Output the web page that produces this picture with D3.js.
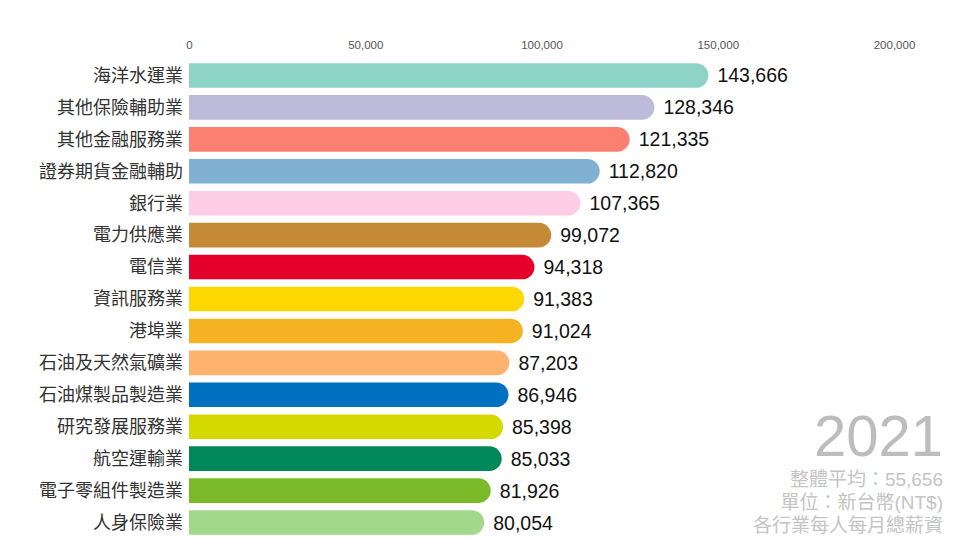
<!DOCTYPE html>
<html>
<head>
<meta charset="utf-8">
<script src="https://cdn.jsdelivr.net/npm/d3@7"></script>
<style>
  html, body { margin: 0; padding: 0; background: #fff; }
  svg { display: block; }
</style>
</head>
<body>
<svg id="chart" width="960" height="540"></svg>
<script>
const categories = ["海洋水運業","其他保險輔助業","其他金融服務業","證券期貨金融輔助","銀行業","電力供應業","電信業","資訊服務業","港埠業","石油及天然氣礦業","石油煤製品製造業","研究發展服務業","航空運輸業","電子零組件製造業","人身保險業"];
const values = [143666,128346,121335,112820,107365,99072,94318,91383,91024,87203,86946,85398,85033,81926,80054];
const colors = ["#8dd3c7","#bebada","#fb8072","#80b1d3","#fccde5","#c48a35","#e4002b","#fcd800","#f5b324","#fdb36e","#0070c0","#d4d900","#00875a","#7aba28","#a2d88c"];
const tickValues = [0,50000,100000,150000,200000];
const year = "2021";
const notes = ["整體平均：55,656","單位：新台幣(NT$)","各行業每人每月總薪資"];

const svg = d3.select("#chart");
const x = d3.scaleLinear().domain([0,200000]).range([189,894]);
const y = d3.scaleBand().domain(categories).range([59.5,538.5]).paddingInner(0.23).paddingOuter(0.115);
const cap = 13;

const axis = d3.axisTop(x).tickValues(tickValues).tickSize(0).tickFormat(d3.format(","));
const ag = svg.append("g").attr("transform","translate(0,52)").call(axis);
ag.select(".domain").remove();
ag.selectAll("text").attr("fill","#555").style("font-family","Liberation Sans, Arial, sans-serif").style("font-size","11.5px");

const rows = svg.append("g").selectAll("g").data(categories).join("g");

rows.append("path")
  .attr("fill",(d,i)=>colors[i])
  .attr("d",(d,i)=>{
    const x0 = x(0), xe = x(values[i]) + cap, t = y(d), h = y.bandwidth(), r = h/2;
    return `M${x0},${t}H${xe-r}A${r},${r} 0 0 1 ${xe-r},${t+h}H${x0}Z`;
  });

rows.append("text")
  .attr("x",183)
  .attr("y",d=>y(d)+y.bandwidth()/2)
  .attr("dy","0.35em")
  .attr("text-anchor","end")
  .attr("fill","#333")
  .style("font-family","'Noto Sans CJK TC', sans-serif")
  .style("font-size","18px")
  .text(d=>d);

rows.append("text")
  .attr("x",(d,i)=>x(values[i]) + cap + 9)
  .attr("y",d=>y(d)+y.bandwidth()/2)
  .attr("dy","0.36em")
  .attr("fill","#111")
  .style("font-family","Liberation Sans, Arial, sans-serif")
  .style("font-size","19.5px")
  .text((d,i)=>d3.format(",")(values[i]));

svg.append("text")
  .attr("x",943).attr("y",456)
  .attr("text-anchor","end")
  .attr("fill","#bdbdbd")
  .style("font-family","Liberation Sans, Arial, sans-serif")
  .style("font-size","58px")
  .text(year);

svg.append("g").selectAll("text").data(notes).join("text")
  .attr("x",943)
  .attr("y",(d,i)=>486+i*23)
  .attr("text-anchor","end")
  .attr("fill","#c4c4c4")
  .style("font-family","'Liberation Sans', 'Noto Sans CJK TC', sans-serif")
  .style("font-size","19px")
  .text(d=>d);
</script>
</body>
</html>
